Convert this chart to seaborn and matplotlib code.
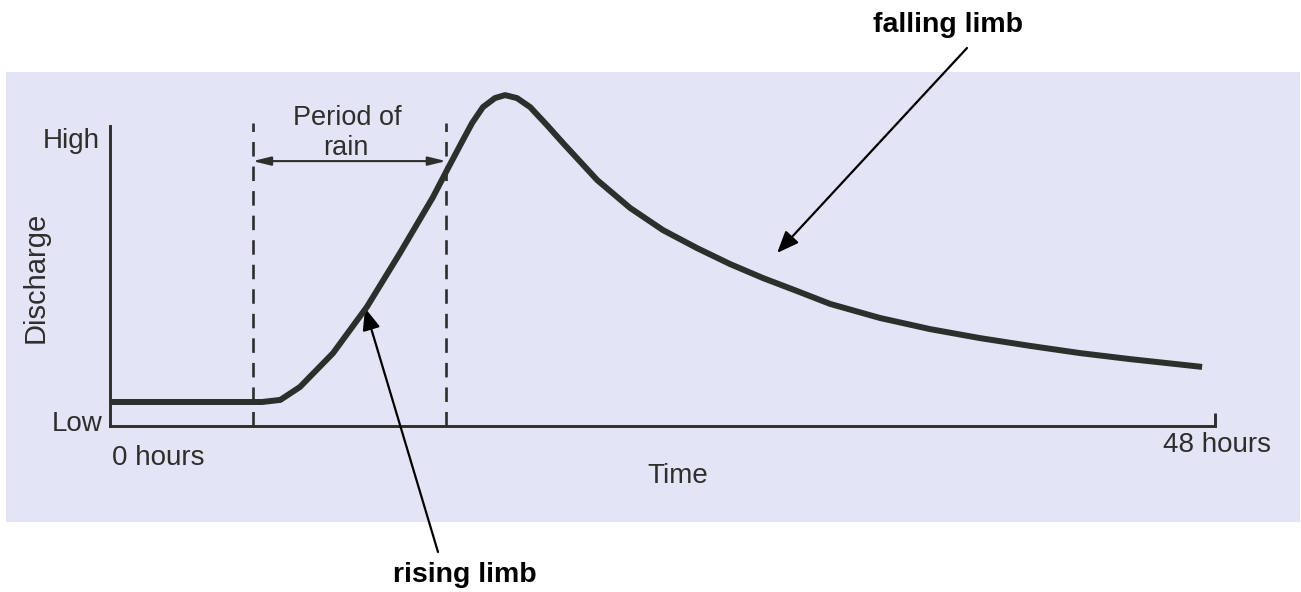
import numpy as np
import pandas as pd
import matplotlib
matplotlib.use("Agg")
import matplotlib.pyplot as plt
from matplotlib.patches import Rectangle
import seaborn as sns

# hydrograph (hours, relative discharge)
hours = [0, 3.9, 6.6, 7.4, 8.25, 9.69, 11.16, 12.6, 14.03, 14.64, 15.33, 15.73, 16.2,
         16.72, 17.16, 17.68, 18.25, 18.98, 19.68, 21.16, 22.59, 24.02, 25.5, 26.93,
         28.37, 29.84, 31.28, 33.45, 35.62, 37.79, 39.97, 42.14, 44.31, 47.44]
discharge = [0.8, 0.8, 0.8, 0.87, 1.3, 2.43, 3.97, 5.77, 7.63, 8.53, 9.53, 10.1, 10.63,
             10.93, 11.03, 10.93, 10.63, 10.03, 9.43, 8.2, 7.27, 6.53, 5.93, 5.4,
             4.93, 4.5, 4.07, 3.6, 3.23, 2.93, 2.67, 2.43, 2.23, 1.97]
rain_start, rain_end = 6.2, 14.6
high_level = 10.0
t_max = 48

df = pd.DataFrame({"Time": hours, "Discharge": discharge})

sns.set_theme(style="white")
plt.rcParams["font.family"] = ["Liberation Sans", "DejaVu Sans"]

W, H = 1301, 592
fig = plt.figure(figsize=(W / 100, H / 100), dpi=100)
fig.patch.set_facecolor("white")

def fx(x):
    return x / W

def fy(y):
    return 1 - y / H

# scanned paper panel, behind everything
bg = fig.add_axes([0, 0, 1, 1], zorder=-1)
bg.set_axis_off()
bg.add_patch(Rectangle((fx(6), fy(522)), fx(1294), (522 - 72) / H,
                       transform=fig.transFigure, facecolor="#e3e5f6",
                       edgecolor="none"))

ax = fig.add_axes([fx(110), fy(426), 1105 / W, 345 / H], zorder=2)
ax.set_facecolor("none")
ink = "#2c2f2c"

sns.lineplot(data=df, x="Time", y="Discharge", ax=ax, color="#2a302b", lw=4.3,
             estimator=None, sort=False, clip_on=False, zorder=4,
             solid_joinstyle="round", solid_capstyle="butt")

ax.set_xlim(0, t_max)
ax.set_ylim(0, 11.5)
for s in ["top", "right"]:
    ax.spines[s].set_visible(False)
for s in ["left", "bottom"]:
    ax.spines[s].set_color(ink)
    ax.spines[s].set_linewidth(2.1)
ax.spines["left"].set_bounds(0, high_level)
ax.spines["bottom"].set_bounds(0, t_max)
ax.plot([t_max, t_max], [0, 0.43], color=ink, lw=2.1, clip_on=False,
        solid_capstyle="butt")
ax.set_xticks([])
ax.set_yticks([])
ax.set_xlabel("")
ax.set_ylabel("")

# period of rain
for t in [rain_start, rain_end]:
    ax.plot([t, t], [0, high_level + 0.1], color=ink, lw=1.9,
            linestyle=(0, (5.5, 3.8)), clip_on=False)
ax.annotate("", xy=(rain_start, 8.83), xytext=(rain_end, 8.83),
            arrowprops=dict(arrowstyle="<|-|>,head_length=0.9,head_width=0.22",
                            color=ink, lw=1.5, shrinkA=0, shrinkB=0))
fig.text(fx(347), fy(125), "Period of", ha="center", va="baseline",
         fontsize=19.5, color=ink)
fig.text(fx(346), fy(155), "rain", ha="center", va="baseline",
         fontsize=19.5, color=ink)

# axis labels
fig.text(fx(100), fy(148), "High", ha="right", va="baseline", fontsize=20, color=ink)
fig.text(fx(102), fy(431), "Low", ha="right", va="baseline", fontsize=20, color=ink)
fig.text(fx(36), fy(277), "Discharge", ha="center", va="center", rotation=90,
         fontsize=21, color=ink)
fig.text(fx(112), fy(465), "0 hours", ha="left", va="baseline", fontsize=20, color=ink)
fig.text(fx(1163), fy(452), "48 hours", ha="left", va="baseline", fontsize=20, color=ink)
fig.text(fx(678), fy(483), "Time", ha="center", va="baseline", fontsize=20, color=ink)

# limb annotations
fig.text(fx(948), fy(32), "falling limb", ha="center", va="baseline",
         fontsize=20.5, fontweight="bold", color="black")
fig.text(fx(465), fy(582), "rising limb", ha="center", va="baseline",
         fontsize=20.5, fontweight="bold", color="black")
arrow = dict(arrowstyle="-|>,head_length=1.1,head_width=0.45", color="black",
             lw=1.6, shrinkA=0, shrinkB=0)
ax.annotate("", xy=(28.98, 5.77), xytext=(967, H - 48), xycoords="data",
            textcoords="figure pixels", arrowprops=arrow, annotation_clip=False)
ax.annotate("", xy=(11.08, 3.93), xytext=(438, H - 552), xycoords="data",
            textcoords="figure pixels", arrowprops=arrow, annotation_clip=False)

fig.savefig("out.png", dpi=100)
